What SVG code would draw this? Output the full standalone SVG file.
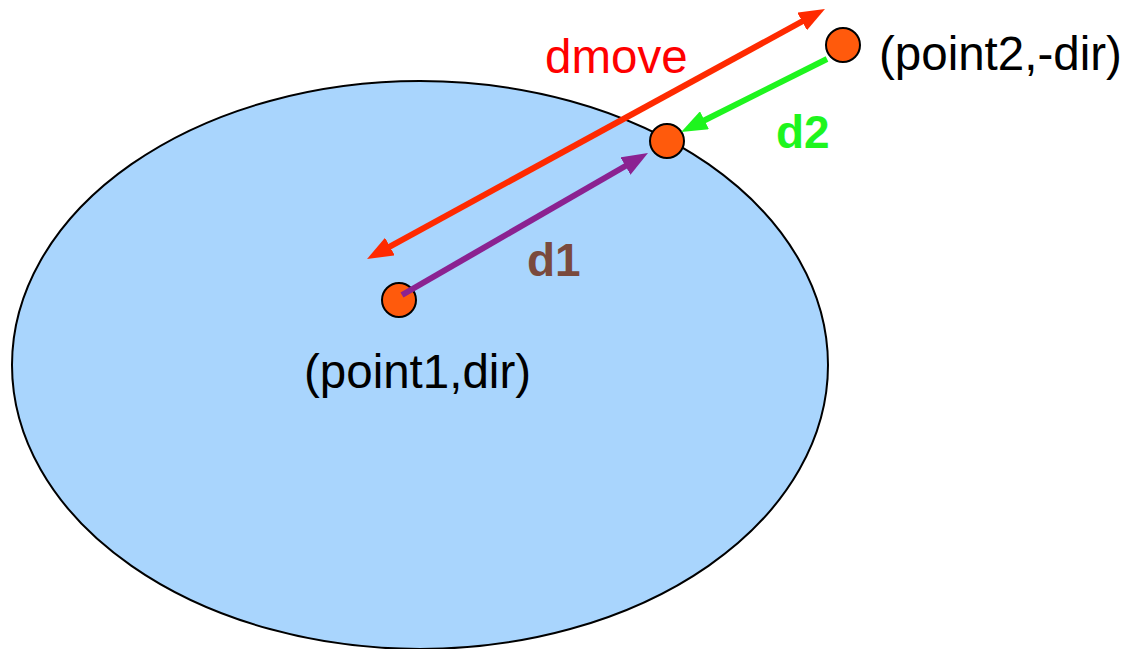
<svg xmlns="http://www.w3.org/2000/svg" width="1132" height="649" viewBox="0 0 1132 649">
<style>
.pt{fill:#ff5a0c;stroke:#000;stroke-width:2}
.lbl{font-family:"Liberation Sans",Arial,sans-serif;font-size:47.5px}
.b{font-weight:bold;font-size:46px}
</style>
<defs>
<marker id="hr" markerUnits="userSpaceOnUse" markerWidth="26" markerHeight="20" refX="11" refY="10" orient="auto-start-reverse"><path d="M0,0 L26,10 L0,20 z" fill="#ff2a00"/></marker>
<marker id="hp" markerUnits="userSpaceOnUse" markerWidth="26" markerHeight="20" refX="11" refY="10" orient="auto"><path d="M0,0 L26,10 L0,20 z" fill="#8b2291"/></marker>
<marker id="hg" markerUnits="userSpaceOnUse" markerWidth="26" markerHeight="20" refX="11" refY="10" orient="auto"><path d="M0,0 L26,10 L0,20 z" fill="#1ef51e"/></marker>
</defs>
<rect width="1132" height="649" fill="#fff"/>
<g id="region"><ellipse cx="420" cy="365" rx="408" ry="284" fill="#a9d5fd" stroke="#000" stroke-width="2"/></g>
<g id="point1"><circle class="pt" cx="399" cy="300" r="17"/><text class="lbl" x="304" y="388">(point1,dir)</text></g>
<g id="pmid"><circle class="pt" cx="667" cy="141" r="17"/></g>
<g id="point2"><circle class="pt" cx="843" cy="45" r="17"/><text class="lbl" x="879" y="70">(point2,-dir)</text></g>
<g id="connectors">
<line x1="380.2" y1="251.8" x2="811.8" y2="16.2" stroke="#ff2a00" stroke-width="6" marker-start="url(#hr)" marker-end="url(#hr)"/>
<line x1="402" y1="295" x2="635" y2="160.5" stroke="#8b2291" stroke-width="6" marker-end="url(#hp)"/>
<line x1="827" y1="59" x2="694.6" y2="125.2" stroke="#1ef51e" stroke-width="6" marker-end="url(#hg)"/>
</g>
<g id="labels">
<text class="lbl" x="545" y="73" fill="#ff0000">dmove</text>
<text class="lbl b" x="527" y="276" fill="#7a4a3d">d1</text>
<text class="lbl b" x="776" y="148" fill="#1ef51e">d2</text>
</g>
</svg>
